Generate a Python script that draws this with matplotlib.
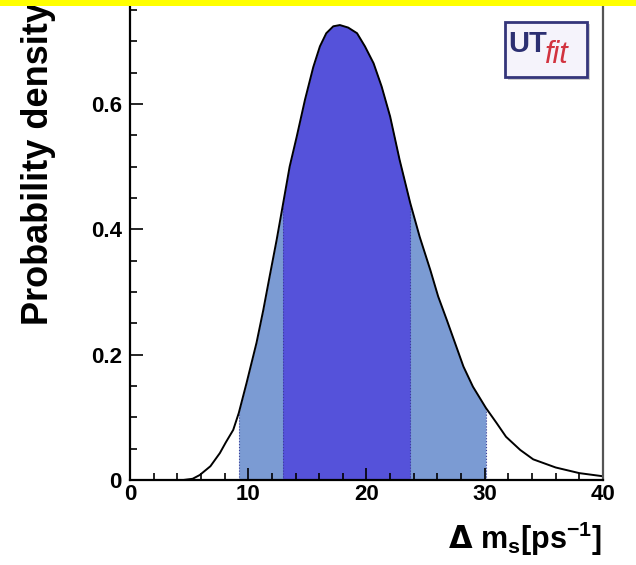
import numpy as np
import matplotlib.pyplot as plt
from matplotlib.patches import Rectangle
from matplotlib.ticker import MultipleLocator

plt.rcParams['font.family'] = ['Liberation Sans', 'DejaVu Sans']
plt.rcParams['font.weight'] = 'bold'

# posterior p.d.f. of Delta m_s
dms = [0.0, 4.5, 5.3, 5.9, 6.8, 7.6, 8.1, 8.73, 9.2, 9.86, 10.7, 11.27, 11.8,
       12.4, 12.9, 13.5, 14.1, 14.8, 15.5, 16.06, 16.6, 17.19, 17.75, 18.45,
       19.2, 19.87, 20.6, 21.28, 22.0, 22.8, 23.7, 24.5, 25.4, 26.06, 26.8,
       27.5, 28.2, 29.0, 30.1, 31.0, 31.8, 33.0, 34.1, 36.0, 38.0, 40.0]
pdf = [0.0, 0.0, 0.002, 0.008, 0.022, 0.043, 0.060, 0.080, 0.107, 0.155,
       0.219, 0.271, 0.324, 0.383, 0.436, 0.500, 0.548, 0.607, 0.659, 0.692,
       0.713, 0.724, 0.726, 0.722, 0.713, 0.692, 0.665, 0.628, 0.580, 0.511,
       0.442, 0.388, 0.335, 0.293, 0.255, 0.218, 0.181, 0.149, 0.115, 0.091,
       0.069, 0.048, 0.033, 0.020, 0.011, 0.006]

range95 = (9.2, 30.1)
range68 = (12.9, 23.7)

x = np.array(dms)
y = np.array(pdf)

fig = plt.figure(figsize=(6.36, 5.65), dpi=100)
ax = fig.add_axes([0.2044, 0.1504, 0.7437, 0.8496])

in95 = (x >= range95[0]) & (x <= range95[1])
in68 = (x >= range68[0]) & (x <= range68[1])
ax.fill_between(x, 0, y, where=in95, color='#7b9bd3', lw=0)
ax.fill_between(x, 0, y, where=in68, color='#5552da', lw=0)
for edge in range95 + range68:
    ax.vlines(edge, 0, y[x == edge][0], colors='#3b3f9a', linestyles=':', lw=0.8)
ax.plot(x, y, color='black', lw=1.4, solid_joinstyle='round')

ax.set_xlim(0, 40)
ax.set_ylim(0, 0.766)
ax.set_xticks([0, 10, 20, 30, 40])
ax.set_xticklabels(['0', '10', '20', '30', '40'])
ax.xaxis.set_minor_locator(MultipleLocator(2))
ax.set_yticks([0, 0.2, 0.4, 0.6])
ax.set_yticklabels(['0', '0.2', '0.4', '0.6'])
ax.yaxis.set_minor_locator(MultipleLocator(0.05))
ax.tick_params(which='both', direction='in', top=False, right=False,
               labelsize=16, width=1.2, color='black')
ax.tick_params(which='major', length=9)
ax.tick_params(which='minor', length=5)
ax.tick_params(axis='x', pad=3)
ax.tick_params(axis='y', pad=6)
for lab in ax.get_xticklabels() + ax.get_yticklabels():
    lab.set_fontweight('bold')

for side in ['left', 'bottom']:
    ax.spines[side].set_linewidth(1.6)
ax.spines['right'].set_color('#555555')
ax.spines['right'].set_linewidth(1.6)
ax.spines['top'].set_visible(False)

fig.text(0.060, 0.425, 'Probability density', rotation=90, fontsize=26,
         fontweight='bold', ha='center', va='bottom')
fig.text(0.947, 0.012,
         r'$\Delta$ m$_{\mathregular{s}}$[ps$^{\mathregular{-1}}$]',
         fontsize=22, fontweight='bold', ha='right', va='bottom')

# logo box
fig.patches.append(Rectangle((0.799, 0.858), 0.129, 0.099, transform=fig.transFigure,
                             facecolor='#cfcfcf', edgecolor='none'))
fig.patches.append(Rectangle((0.794, 0.864), 0.129, 0.097, transform=fig.transFigure,
                             facecolor='#f5f3fb', edgecolor='#34357a', lw=2.0))
fig.text(0.799, 0.923, 'UT', fontsize=21, fontweight='bold', color='#2c2f72',
         ha='left', va='center')
fig.text(0.857, 0.903, 'fit', fontsize=22, fontstyle='italic', fontweight='normal',
         color='#d2333f', ha='left', va='center')

# yellow strip along the top edge
fig.patches.append(Rectangle((0, 0.989), 1, 0.011, transform=fig.transFigure,
                             facecolor='#ffff00', edgecolor='none', zorder=10))

fig.savefig('out.png', dpi=100)
